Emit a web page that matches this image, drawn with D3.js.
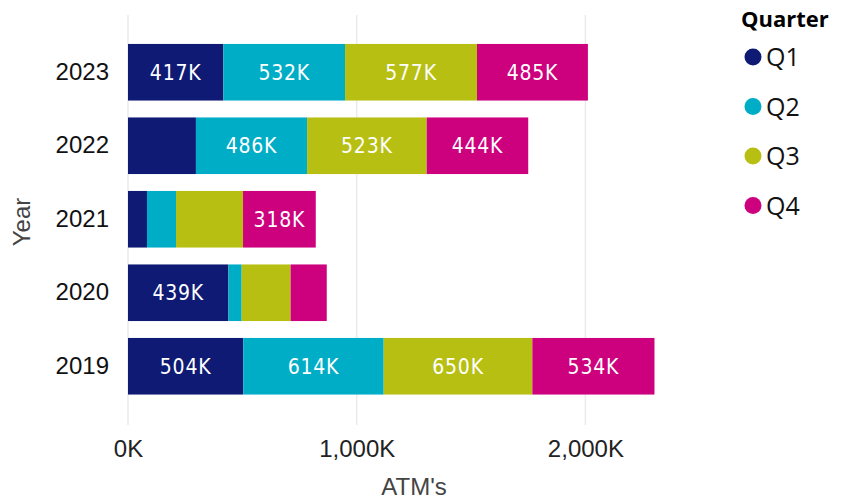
<!DOCTYPE html>
<meta charset="utf-8">
<head>
  <script src="https://d3js.org/d3.v7.min.js"></script>
  <style>
    body { margin: 0; background: #fff; }
    svg { display: block; }
  </style>
</head>
<body>
<div id="chart"></div>
<script>

// data (thousands of ATM's)
var years = ["2023", "2022", "2021", "2020", "2019"];
var quarters = ["Q1", "Q2", "Q3", "Q4"];
var q1 = [417, 297, 83, 439, 504];
var q2 = [532, 486, 127, 58, 614];
var q3 = [577, 523, 293, 214, 650];
var q4 = [485, 444, 318, 158, 534];
var xTicks = [0, 1000, 2000];
var colors = ["#0E1A73", "#00ADC6", "#B7BF12", "#CD007E"];

var W = 841, H = 500;

var svg = d3.select("#chart")
  .append("svg")
    .attr("width", W)
    .attr("height", H);

var x = d3.scaleLinear()
  .domain([0, 2000])
  .range([128, 585.4]);

var y = d3.scaleBand()
  .domain(years)
  .range([35.5, 403])
  .paddingInner(0.23)
  .paddingOuter(0.115);

var color = d3.scaleOrdinal().domain(quarters).range(colors);

// build rows for the stack
var rows = years.map(function(yr, i) {
  return { Year: yr, Q1: q1[i], Q2: q2[i], Q3: q3[i], Q4: q4[i] };
});
var series = d3.stack().keys(quarters)(rows);

// gridlines
svg.append("g")
  .selectAll("line")
  .data(xTicks)
  .enter()
  .append("line")
    .attr("x1", function(d) { return x(d); })
    .attr("x2", function(d) { return x(d); })
    .attr("y1", 15)
    .attr("y2", 425)
    .attr("stroke", "#ebebeb")
    .attr("stroke-width", 1.5);

// x tick labels
var xAxis = svg.append("g")
  .attr("transform", "translate(0,437)")
  .call(d3.axisBottom(x).tickValues(xTicks).tickSize(0)
    .tickFormat(function(d) { return d3.format(",")(d) + "K"; }));
xAxis.select(".domain").remove();
xAxis.selectAll("text")
  .attr("font-family", "Liberation Sans, Arial, sans-serif")
  .attr("font-size", 24)
  .attr("fill", "#222");

// y tick labels
var yAxis = svg.append("g")
  .attr("transform", "translate(109,0)")
  .call(d3.axisLeft(y).tickSize(0).tickPadding(0));
yAxis.select(".domain").remove();
yAxis.selectAll("text")
  .attr("font-family", "Liberation Sans, Arial, sans-serif")
  .attr("font-size", 24)
  .attr("fill", "#111");

// axis titles
svg.append("text")
  .attr("x", 414)
  .attr("y", 495)
  .attr("text-anchor", "middle")
  .attr("font-family", "Liberation Sans, Arial, sans-serif")
  .attr("font-size", 24)
  .attr("fill", "#444")
  .text("ATM's");

svg.append("text")
  .attr("transform", "translate(30,222)rotate(-90)")
  .attr("text-anchor", "middle")
  .attr("font-family", "Liberation Sans, Arial, sans-serif")
  .attr("font-size", 24)
  .attr("fill", "#444")
  .text("Year");

// bars
var groups = svg.append("g")
  .selectAll("g")
  .data(series)
  .enter()
  .append("g")
    .attr("fill", function(d) { return color(d.key); });

groups.selectAll("rect")
  .data(function(d) { return d; })
  .enter()
  .append("rect")
    .attr("x", function(d) { return x(d[0]); })
    .attr("y", function(d) { return y(d.data.Year); })
    .attr("width", function(d) { return x(d[1]) - x(d[0]); })
    .attr("height", y.bandwidth());

// data labels, only where the segment is wide enough
groups.selectAll("text")
  .data(function(d) { return d.filter(function(s) { return x(s[1]) - x(s[0]) > 70; }); })
  .enter()
  .append("text")
    .attr("x", function(d) { return (x(d[0]) + x(d[1])) / 2; })
    .attr("y", function(d) { return y(d.data.Year) + y.bandwidth() / 2; })
    .attr("dy", "0.36em")
    .attr("text-anchor", "middle")
    .attr("font-family", "DejaVu Sans Condensed, sans-serif")
    .attr("font-size", 21)
    .attr("letter-spacing", 0.8)
    .attr("fill", "#fff")
    .text(function(d) { return (d[1] - d[0]) + "K"; });

// legend
var legend = svg.append("g");
legend.append("text")
  .attr("x", 741)
  .attr("y", 27)
  .attr("font-family", "Open Sans, sans-serif")
  .attr("font-weight", 700)
  .attr("font-size", 22)
  .attr("fill", "#000")
  .text("Quarter");

var items = legend.selectAll("g.item")
  .data(quarters)
  .enter()
  .append("g")
    .attr("class", "item")
    .attr("transform", function(d, i) { return "translate(753," + (57 + i * 49.5) + ")"; });
items.append("circle")
  .attr("r", 8.5)
  .attr("fill", function(d) { return color(d); });
items.append("text")
  .attr("x", 13)
  .attr("dy", "0.36em")
  .attr("font-family", "Open Sans, sans-serif")
  .attr("font-size", 25)
  .attr("fill", "#111")
  .text(function(d) { return d; });

</script>
</body>
